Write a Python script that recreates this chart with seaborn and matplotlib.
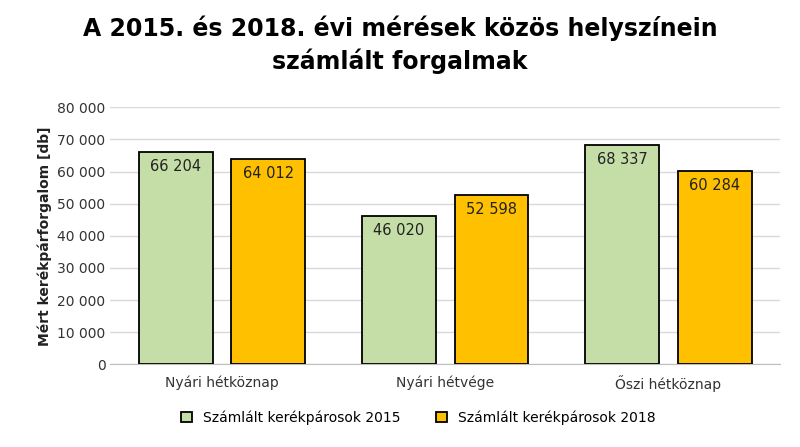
import matplotlib
matplotlib.use("Agg")
import matplotlib.pyplot as plt
import seaborn as sns
import pandas as pd
from matplotlib.ticker import FuncFormatter

categories = ["Nyári hétköznap", "Nyári hétvége", "Őszi hétköznap"]
series_names = ["Számlált kerékpárosok 2015", "Számlált kerékpárosok 2018"]
values_2015 = [66204, 46020, 68337]
values_2018 = [64012, 52598, 60284]

df = pd.DataFrame({
    "cat": categories * 2,
    "series": [series_names[0]] * 3 + [series_names[1]] * 3,
    "val": values_2015 + values_2018,
})

fig = plt.figure(figsize=(8, 4.47), dpi=100)
ax = fig.add_axes([0.138, 0.185, 0.837, 0.575])
sns.barplot(data=df, x="cat", y="val", hue="series", order=categories,
            hue_order=series_names, palette=["#C5DEA8", "#FFC000"], saturation=1,
            edgecolor="black", linewidth=1.3, width=0.8, ax=ax, legend=True, zorder=3)

bw = 0.33
gap = 0.085
for i, cont in enumerate(ax.containers):
    for j, p in enumerate(cont.patches):
        center = j + (-1 if i == 0 else 1) * (bw + gap) / 2
        p.set_width(bw)
        p.set_x(center - bw / 2)
        h = p.get_height()
        ax.text(center, h - 4500, f"{int(h):,}".replace(",", " "),
                ha="center", va="center", fontsize=10.5, color="#222222", zorder=4)

ax.set_ylim(0, 80000)
ax.set_xlim(-0.5, 2.5)
ax.set_yticks(range(0, 80001, 10000))
ax.yaxis.set_major_formatter(FuncFormatter(lambda v, p: f"{int(v):,}".replace(",", " ")))
ax.grid(axis="y", color="#D9D9D9", linewidth=1, zorder=0)
for s in ["top", "right", "left"]:
    ax.spines[s].set_visible(False)
ax.spines["bottom"].set_color("#BFBFBF")
ax.tick_params(axis="both", length=0, labelsize=10, colors="#333333")
ax.tick_params(axis="x", pad=8)
ax.set_xlabel("")
ax.set_ylabel("Mért kerékpárforgalom [db]", fontsize=10, fontweight="bold", color="#222222")

fig.suptitle("A 2015. és 2018. évi mérések közös helyszínein\nszámlált forgalmak",
             fontsize=17, fontweight="bold", y=0.965, x=0.5, linespacing=1.35)

leg = ax.legend(loc="upper center", bbox_to_anchor=(0.46, -0.13), ncol=2, frameon=False,
                fontsize=10, handlelength=0.8, handleheight=0.8, columnspacing=2.5)
fig.savefig("out.png", dpi=100)
